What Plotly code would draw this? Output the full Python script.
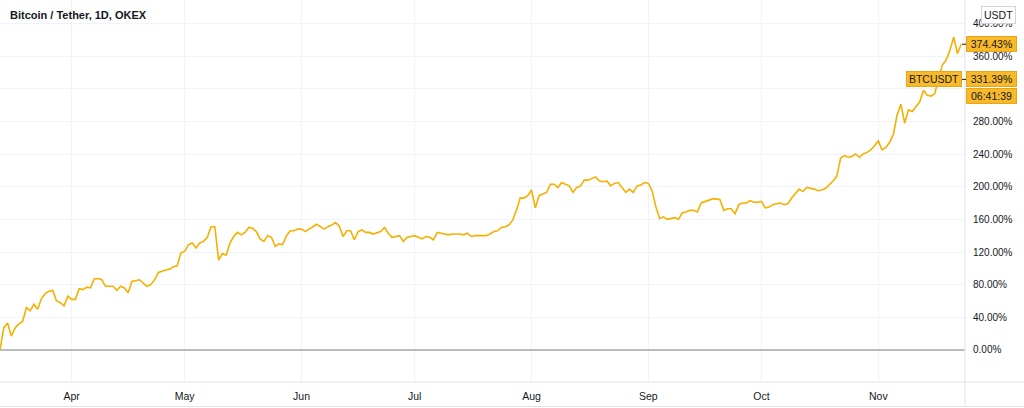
import pandas as pd
import plotly.graph_objects as go

# ---- data (percent change from first bar, daily, 2020-03-13 .. 2020-11-23) ----
start_date = "2020-03-13"
pct_change = [
    0, 27, 33, 17, 27, 32, 35, 52, 48, 56, 50, 63, 69, 72, 73, 60, 58, 54, 66, 62,
    62, 75, 74, 77, 76, 87, 87.5, 86, 78, 78, 78, 73, 78, 76, 70, 84, 85, 86, 82, 78,
    80, 86, 95, 97, 98, 99, 102, 103, 119, 121, 129, 131, 125, 131, 133, 138, 151, 151, 110, 118,
    116, 131, 139, 144, 141, 144, 150, 149, 145, 136, 133, 140, 138, 127, 130, 129, 140, 146, 146, 148,
    148, 145, 148, 150, 154, 151, 148, 151, 153, 156, 152, 139, 146, 146, 135, 145, 147, 144, 144, 142,
    144, 145, 150, 143, 138, 139, 140, 133, 138, 139, 140, 138, 136, 139, 138, 135, 144, 143, 142, 141,
    142, 142, 142, 141, 143, 139, 140, 140, 140, 140, 142, 145, 146, 150, 151, 153, 159, 171, 186, 186,
    189, 196, 174, 189, 191, 193, 203, 203, 199, 205, 203, 201, 193, 199, 201, 208, 208, 210, 212, 207,
    206, 207, 201, 204, 205, 199, 193, 197, 193, 201, 202, 205, 204, 195, 175, 161, 163, 160, 161, 162,
    160, 168, 169, 171, 171, 169, 180, 182, 184, 185, 185, 184, 171, 173, 173, 167, 178, 180, 180, 183,
    181, 181, 182, 174, 175, 178, 179, 180, 178, 179, 186, 191, 197, 194, 199, 198, 197, 195, 196, 198,
    202, 207, 213, 235, 238, 236, 237, 240, 236, 240, 242, 245, 250, 256, 245, 248, 254, 264, 288, 301,
    278, 294, 292, 298, 304, 318, 312, 311, 314, 333, 349, 355, 367, 383, 363, 374.43,
]
dates = pd.date_range(start_date, periods=len(pct_change), freq="D")

month_ticks = ["2020-04-01", "2020-05-01", "2020-06-01", "2020-07-01",
               "2020-08-01", "2020-09-01", "2020-10-01", "2020-11-01"]
month_labels = ["Apr", "May", "Jun", "Jul", "Aug", "Sep", "Oct", "Nov"]

y_ticks = [0, 40, 80, 120, 160, 200, 240, 280, 320, 360, 400]
# 320% label is hidden behind the price / countdown boxes in the reference
y_labels = ["" if v == 320 else f"{v:.2f}%" for v in y_ticks]

title_text = "Bitcoin / Tether, 1D, OKEX"
last_pct_label = "374.43%"
symbol_label = "BTCUSDT"
symbol_pct = 331.39
countdown = "06:41:39"
currency = "USDT"

# ---- style ----
LINE = "#F5B000"
BOX = "#F9BA2A"
BOXB = "#E8A51A"
TXT = "#131722"
GRID = "#F0F3FA"
AXL = "#E0E3EB"
FONT = "Liberation Sans"

W, H = 1024, 408
PW = 965.0   # plot width px
PH = 382.0   # plot height px

fig = go.Figure()
fig.add_trace(go.Scatter(x=dates, y=pct_change, mode="lines",
                         line=dict(color=LINE, width=1.6), hoverinfo="skip"))

fig.update_layout(
    width=W, height=H,
    margin=dict(l=0, r=W - PW, t=0, b=H - PH),
    paper_bgcolor="white", plot_bgcolor="white",
    showlegend=False,
    font=dict(family=FONT, color=TXT, size=10),
)

fig.update_xaxes(
    type="date",
    range=["2020-03-13", "2020-11-24"],
    tickvals=month_ticks, ticktext=month_labels,
    showgrid=True, gridcolor=GRID, gridwidth=1,
    showline=False, zeroline=False,
    ticks="", ticklabelstandoff=6,
    tickfont=dict(family=FONT, size=10.5, color=TXT),
)
fig.update_yaxes(
    side="right",
    range=[-39.2, 428.6],
    tickvals=y_ticks, ticktext=y_labels,
    showgrid=True, gridcolor=GRID, gridwidth=1,
    zeroline=True, zerolinecolor="#B8BBC4", zerolinewidth=1.5,
    showline=False, ticks="", ticklabelstandoff=7,
    tickfont=dict(family=FONT, size=10, color=TXT),
)

# frame lines
fig.add_shape(type="line", xref="paper", yref="paper", x0=0, x1=W / PW, y0=0, y1=0,
              line=dict(color=AXL, width=1))
fig.add_shape(type="line", xref="paper", yref="paper", x0=1, x1=1, y0=-(H - PH - 2) / PH, y1=1,
              line=dict(color=AXL, width=1))
fig.add_shape(type="line", xref="paper", yref="paper", x0=0, x1=W / PW,
              y0=-(H - PH - 1.5) / PH, y1=-(H - PH - 1.5) / PH,
              line=dict(color=AXL, width=1))

# title
fig.add_annotation(text=f"<b>{title_text}</b>", xref="paper", yref="paper",
                   x=8 / PW, y=(PH - 15) / PH, xanchor="left", yanchor="middle",
                   showarrow=False, font=dict(family=FONT, size=11, color=TXT))

# currency box
fig.add_annotation(text=currency, xref="paper", yref="paper",
                   x=998 / PW, y=(PH - 15) / PH, xanchor="center", yanchor="middle",
                   showarrow=False, font=dict(family=FONT, size=10.5, color=TXT),
                   bgcolor="white", bordercolor="#D1D4DC", borderwidth=1, borderpad=2)

def val_box(text, y, yref="y", xpx=966, anchor="left", width=45):
    fig.add_annotation(text=text, xref="paper", yref=yref,
                       x=xpx / PW, y=y, xanchor=anchor, yanchor="middle",
                       showarrow=False, font=dict(family=FONT, size=10.5, color=TXT),
                       bgcolor=BOX, bordercolor=BOXB, borderwidth=1, borderpad=2,
                       width=width, height=10, align="center")

val_box(last_pct_label, pct_change[-1])
val_box(f"{symbol_pct:.2f}%", symbol_pct)
val_box(symbol_label, symbol_pct, xpx=962, anchor="right", width=50)
val_box(countdown, (PH - 96) / PH, yref="paper")

for yv in (pct_change[-1], symbol_pct):
    fig.add_shape(type="line", xref="paper", yref="y", x0=962 / PW, x1=968 / PW,
                  y0=yv, y1=yv, line=dict(color=TXT, width=1))

fig.write_html("out.html",
               config={"displayModeBar": False, "staticPlot": True},
               post_script="document.body.style.margin='0';document.body.style.padding='0';")
